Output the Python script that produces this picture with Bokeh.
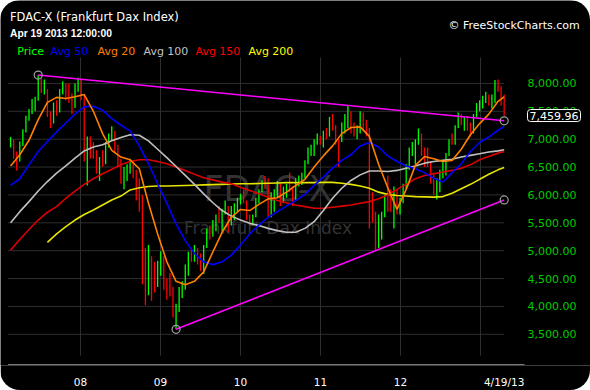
import pandas as pd
from bokeh.plotting import figure
from bokeh.core.properties import value
from bokeh.models import Range1d, FixedTicker, Label
from bokeh.embed import file_html
from bokeh.resources import INLINE

# ---------------- data ----------------
last_date = "2013-04-19"
n_bars = 162          # two-week bars, Feb 2007 .. Apr 19 2013
first_open = 6880

bar_close = [
    6950, 6700, 6620, 6900, 7150, 7380, 7480, 7680, 7700, 8000,
    7900, 7950, 7450, 7300, 7620, 7500, 7860, 7980, 7830, 7800,
    7580, 7950, 8050, 7750, 6900, 6950, 6850, 6750, 6480, 6600,
    6580, 6900, 7000, 7100, 6800, 6650, 6300, 6450, 6480, 6600,
    6400, 6200, 6100, 4550, 4300, 4850, 4400, 4380, 4700, 4950,
    4400, 4350, 4320, 3850, 3950, 4200, 4350, 4600, 4900, 4850,
    5050, 4850, 4800, 5050, 5350, 5300, 5500, 5600, 5550, 5700,
    5750, 5500, 5650, 5800, 5850, 5960, 5880, 5600, 5500, 5600,
    5900, 6050, 6250, 6230, 5700, 5800, 5950, 6200, 5850, 6050,
    6150, 6100, 5950, 6250, 6300, 6350, 6600, 6800, 6850, 6950,
    7000, 6950, 7100, 7050, 7350, 7200, 7000, 6950, 7250, 7300,
    7450, 7150, 7100, 7150, 7400, 7200, 7150, 5950, 5550, 5200,
    5450, 5650, 5950, 5900, 5800, 6050, 5700, 5900, 6150, 6500,
    6800, 6850, 6900, 6980, 6780, 6700, 6560, 6280, 6050, 6230,
    6400, 6550, 6700, 6950, 6940, 7200, 7450, 7350, 7380, 7350,
    7100, 7400, 7600, 7620, 7700, 7800, 7650, 7680, 8000, 7900,
    7650, 7460]
bar_high = [
    7040, 6990, 6780, 6960, 7180, 7420, 7540, 7720, 7760, 8150,
    8090, 8070, 7900, 7500, 7660, 7700, 7900, 8040, 8000, 8000,
    7820, 8000, 8100, 8080, 7780, 7050, 7050, 6950, 6800, 6680,
    6800, 6950, 7100, 7230, 7150, 6900, 6650, 6500, 6550, 6650,
    6600, 6450, 6300, 6000, 5050, 5100, 4900, 4800, 4820, 4990,
    4900, 4500, 4600, 4350, 4050, 4350, 4450, 4750, 4980, 5050,
    5100, 5050, 4950, 5100, 5400, 5450, 5550, 5650, 5800, 5750,
    5900, 5800, 5800, 5850, 5950, 6020, 6100, 5900, 5650, 5650,
    5950, 6100, 6270, 6340, 6300, 6050, 6100, 6250, 6200, 6150,
    6200, 6400, 6150, 6300, 6350, 6400, 6620, 6850, 6900, 7000,
    7100, 7060, 7150, 7200, 7400, 7450, 7250, 7000, 7300, 7450,
    7600, 7500, 7300, 7250, 7500, 7480, 7350, 7200, 6050, 5700,
    5650, 5700, 6000, 6350, 6100, 6150, 6100, 5950, 6200, 6550,
    6850, 6950, 7000, 7190, 7100, 6850, 6850, 6600, 6400, 6300,
    6450, 6600, 6750, 7000, 7100, 7250, 7480, 7450, 7400, 7420,
    7300, 7450, 7650, 7700, 7780, 7850, 7800, 7800, 8060, 8070,
    7950, 7800]
bar_low = [
    6850, 6650, 6440, 6600, 6880, 7120, 7330, 7450, 7500, 7690,
    7830, 7800, 7400, 7200, 7280, 7420, 7480, 7800, 7700, 7650,
    7450, 7560, 7850, 7700, 6600, 6170, 6650, 6650, 6380, 6250,
    6500, 6550, 6850, 6980, 6750, 6500, 6200, 6100, 6250, 6380,
    6300, 5900, 5700, 4400, 4020, 4200, 4100, 4250, 4350, 4550,
    4300, 4120, 4180, 3800, 3590, 3900, 4150, 4300, 4550, 4800,
    4800, 4750, 4630, 4580, 5050, 5200, 5250, 5350, 5500, 5350,
    5650, 5320, 5450, 5550, 5700, 5830, 5850, 5550, 5450, 5450,
    5600, 5850, 6050, 6100, 5600, 5600, 5700, 5950, 5800, 5850,
    5950, 6050, 5800, 5900, 6150, 6180, 6300, 6550, 6700, 6700,
    6900, 6900, 6850, 7000, 7050, 7150, 6900, 6500, 6950, 7100,
    7200, 7100, 7050, 7000, 7100, 7150, 7050, 5400, 5500, 5000,
    5050, 5200, 5600, 5700, 5700, 5400, 5650, 5650, 5850, 6100,
    6450, 6700, 6550, 6900, 6700, 6500, 6500, 6200, 6000, 5920,
    6050, 6300, 6350, 6700, 6900, 6900, 7200, 7250, 7150, 7150,
    7050, 7100, 7400, 7500, 7550, 7650, 7600, 7550, 7650, 7850,
    7600, 7420]

# moving averages, read at every third bar (plus the last bar)
avg20 = [
    6520, 6720, 6980, 7350, 7660, 7750, 7730, 7760, 7800, 7500,
    7100, 6800, 6680, 6630, 6470, 5850, 5300, 4800, 4450, 4390,
    4450, 4620, 4980, 5330, 5600, 5740, 5720, 5830, 5930, 5950,
    6050, 6170, 6280, 6500, 6700, 6880, 7100, 7210, 7220, 7050,
    6550, 6130, 5740, 6100, 6530, 6690, 6650, 6600, 6620, 6820,
    7080, 7280, 7450, 7680, 7760]
avg50 = [
    6170, 6290, 6540, 6780, 6960, 7130, 7290, 7450, 7580, 7590,
    7520, 7370, 7250, 7150, 6880, 6560, 6200, 5850, 5480, 5180,
    4950, 4800, 4750, 4800, 4920, 5100, 5300, 5460, 5600, 5700,
    5800, 5900, 6010, 6170, 6320, 6480, 6620, 6720, 6880, 6940,
    6860, 6700, 6600, 6520, 6470, 6400, 6300, 6230, 6400, 6560,
    6780, 6940, 7040, 7160, 7230]
avg100 = [
    5500, 5700, 5880, 6070, 6240, 6390, 6520, 6660, 6790, 6860,
    6900, 6970, 7030, 7080, 7070, 6970, 6820, 6670, 6510, 6350,
    6190, 6020, 5860, 5720, 5620, 5550, 5490, 5450, 5400, 5360,
    5330, 5330, 5400, 5520, 5720, 5940, 6120, 6260, 6360, 6430,
    6430, 6420, 6440, 6480, 6520, 6570, 6600, 6620, 6640, 6680,
    6710, 6740, 6770, 6790, 6810]
avg150 = [
    5010, 5200, 5380, 5550, 5690, 5790, 5940, 6070, 6190, 6290,
    6380, 6460, 6540, 6600, 6630, 6630, 6600, 6560, 6500, 6440,
    6370, 6310, 6270, 6230, 6200, 6140, 6080, 6020, 5960, 5900,
    5860, 5820, 5790, 5760, 5760, 5780, 5800, 5820, 5850, 5880,
    5930, 6000, 6100, 6190, 6290, 6350, 6380, 6410, 6440, 6480,
    6540, 6630, 6690, 6750, 6780]
avg200 = [  # begins at the 5th sample
    5150, 5300, 5430, 5550, 5650, 5730,
    5820, 5910, 5980, 6090, 6130, 6150, 6160, 6160, 6165, 6170,
    6175, 6180, 6185, 6190, 6195, 6200, 6200, 6205, 6210, 6215,
    6220, 6220, 6220, 6220, 6225, 6225, 6210, 6190, 6160, 6120,
    6050, 6010, 5990, 5980, 5970, 5965, 5960, 5970, 6030, 6110,
    6190, 6280, 6370, 6450, 6490]

upper_trend_dates = ["2007-06-22", "2013-04-19"]
upper_trend_vals = [8150, 7330]
lower_trend_dates = ["2009-03-13", "2013-04-19"]
lower_trend_vals = [3590, 5910]

last_price = 7459.96
price_ticks = [3500, 4000, 4500, 5000, 5500, 6000, 6500, 7000, 7500, 8000]
year_dates = ["2008-01-01", "2009-01-01", "2010-01-01", "2011-01-01", "2012-01-01", "2013-01-01"]
year_labels = ["08", "09", "10", "11", "12"]
last_label = "4/19/13"

legend_names = ["Price", "Avg 50", "Avg 20", "Avg 100", "Avg 150", "Avg 200"]
legend_colors = ["#00ff00", "#0000ff", "#ff8000", "#c0c0c0", "#ff0000", "#ffff00"]

# ---------------- helpers ----------------
def yr(d):
    ts = pd.Timestamp(d)
    a = pd.Timestamp(year=ts.year, month=1, day=1)
    b = pd.Timestamp(year=ts.year + 1, month=1, day=1)
    return ts.year + (ts - a) / (b - a)

W, H = 590, 390
FW, FH = 590.0, 371.0                     # plot frame in px (axis panel below)
PX_YEAR = 80.0                            # px per year
X0 = 2008.0 - 80.0 / PX_YEAR              # page x = 0
X1 = X0 + FW / PX_YEAR
PT_PX = 4500.0 / 255.0                    # price points per px
Y1 = 8000.0 + 84.3 * PT_PX                # page y = 0
Y0 = Y1 - FH * PT_PX

def sx(px):
    return X0 + px / PX_YEAR

def sy(py):
    return Y1 - py * PT_PX

dates = pd.date_range(end=last_date, periods=n_bars, freq="14D")
t = [yr(d) for d in dates]
t_last = yr(last_date)
opens = [first_open] + bar_close[:-1]
bar_colors = ["#00ff00" if c >= o else "#ff0000" for c, o in zip(bar_close, opens)]
ma_t = t[::3] + [t[-1]]

# ---------------- figure ----------------
p = figure(width=W, height=H, output_backend="svg", toolbar_location=None, title=None,
           x_range=Range1d(X0, X1), y_range=Range1d(Y0, Y1), y_axis_location=None,
           min_border_left=0, min_border_right=0, min_border_top=0, min_border_bottom=int(H - FH),
           background_fill_color="#000000", border_fill_color="#000000", outline_line_color=None)
p.styles = {"border-radius": "20px", "overflow": "hidden"}
p.xgrid.visible = False
p.ygrid.visible = False

# bottom date axis
year_t = [yr(d) for d in year_dates]
xa = p.xaxis[0]
xa.ticker = FixedTicker(ticks=year_t[:len(year_labels)] + [t_last])
overrides = {tv: lab for tv, lab in zip(year_t, year_labels)}
overrides[t_last] = last_label
xa.major_label_overrides = overrides
xa.major_tick_line_color = None
xa.minor_tick_line_color = None
xa.axis_line_color = None
xa.major_label_standoff = 4
xa.major_label_text_color = "#ffffff"
xa.major_label_text_font = "DejaVu Sans"
xa.major_label_text_font_size = "10.5px"

# watermark
p.text(x=[sx(267.5)], y=[sy(192)], text=["FDAC-X"], text_align="center", text_baseline="middle",
       text_font=value("DejaVu Sans"), text_font_size="35px", text_color="#333333")
p.text(x=[sx(267.5)], y=[sy(231)], text=["Frankfurt Dax Index"], text_align="center",
       text_baseline="middle", text_font=value("DejaVu Sans"), text_font_size="17px",
       text_color="#333333")

# grid lines and axis line
n_pt = len(price_ticks)
p.segment(x0=[sx(7.5)] * n_pt, x1=[t_last] * n_pt, y0=price_ticks, y1=price_ticks,
          line_color="#2e2e2e", line_width=1)
p.segment(x0=year_t, x1=year_t, y0=[sy(58)] * len(year_t), y1=[sy(361)] * len(year_t),
          line_color="#2e2e2e", line_width=1)
p.segment(x0=[sx(7.5)], x1=[sx(524)], y0=[sy(370)], y1=[sy(370)], line_color="#7a7a7a", line_width=1)

# right price labels
p.text(x=[sx(527)] * n_pt, y=price_ticks, text=[f"{v:,.2f}" for v in price_ticks],
       text_align="left", text_baseline="middle", text_font=value("DejaVu Sans"),
       text_font_size="11px", text_color="#00cc00")

# price bars
p.segment(x0=t, x1=t, y0=bar_low, y1=bar_high, line_color=bar_colors, line_width=1.3)

# moving averages
p.line(ma_t[4:], avg200, line_color="#e6e600", line_width=1.6)
p.line(ma_t, avg150, line_color="#dd0000", line_width=1.6)
p.line(ma_t, avg100, line_color="#c0c0c0", line_width=1.6)
p.line(ma_t, avg50, line_color="#0000ff", line_width=1.6)
p.line(ma_t, avg20, line_color="#ff8000", line_width=1.6)

# trend lines
ut = [yr(d) for d in upper_trend_dates]
lt = [yr(d) for d in lower_trend_dates]
p.line(ut, upper_trend_vals, line_color="#ff00ff", line_width=1.6)
p.line(lt, lower_trend_vals, line_color="#ff00ff", line_width=1.6)
p.scatter(ut + lt, upper_trend_vals + lower_trend_vals, marker="circle", size=8,
          fill_color=None, line_color="#a0a0a0", line_width=1.2)

# header texts
p.add_layout(Label(x=sx(9.5), y=sy(17), text="FDAC-X (Frankfurt Dax Index)", text_color="#ffffff",
                   text_font="DejaVu Sans", text_font_size="11.5px", text_baseline="middle"))
p.add_layout(Label(x=sx(9.5), y=sy(33.5), text="Apr 19 2013 12:00:00", text_color="#ffffff",
                   text_font="Liberation Sans", text_font_style="bold", text_font_size="10.3px",
                   text_baseline="middle"))
legend_x = [16.7, 50, 97, 143, 195, 248]
for name, col, lx in zip(legend_names, legend_colors, legend_x):
    p.add_layout(Label(x=sx(lx), y=sy(52), text=name, text_color=col, text_font="DejaVu Sans",
                       text_font_size="11px", text_baseline="middle"))
p.add_layout(Label(x=sx(448), y=sy(25), text="\u00a9 FreeStockCharts.com", text_color="#ffffff",
                   text_font="DejaVu Sans", text_font_size="11px", text_baseline="middle"))

# last price box
p.add_layout(Label(x=sx(527), y=last_price, y_offset=-2, text=f"{last_price:,.2f}", text_color="#ffffff",
                   text_font="DejaVu Sans", text_font_size="11px", text_baseline="middle",
                   background_fill_color="#000000", border_line_color="#ffffff", border_line_width=1,
                   padding=2, border_radius=3))

open("out.html", "w").write(file_html(p, INLINE))
